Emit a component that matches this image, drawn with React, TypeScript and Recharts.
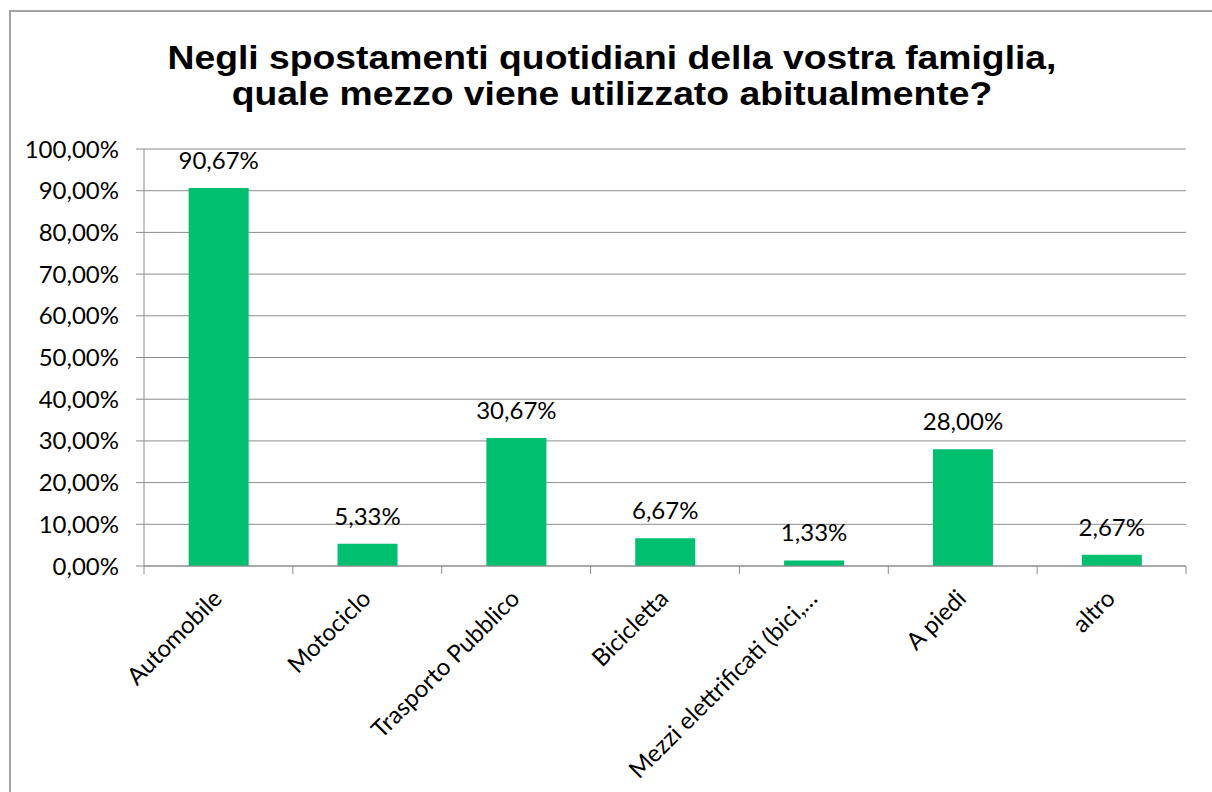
import { BarChart, Bar, XAxis, YAxis, CartesianGrid, LabelList } from "recharts";

const categories = [
  "Automobile",
  "Motociclo",
  "Trasporto Pubblico",
  "Bicicletta",
  "Mezzi elettrificati (bici,…",
  "A piedi",
  "altro",
];
const shares = [0.9067, 0.0533, 0.3067, 0.0667, 0.0133, 0.28, 0.0267];
const yTicks = [0, 0.1, 0.2, 0.3, 0.4, 0.5, 0.6, 0.7, 0.8, 0.9, 1];
const titleLines = [
  "Negli spostamenti quotidiani della vostra famiglia,",
  "quale mezzo viene utilizzato abitualmente?",
];

const data = categories.map((name, i) => ({ name, value: shares[i] }));

const GREEN = "#00BF6F";
const GRAY = "#8c8c8c";
const FONT = "Lato, 'Open Sans', sans-serif";

const pct = (v: number) => `${(v * 100).toFixed(2).replace(".", ",")}%`;

function CategoryTick(props: any) {
  const { x, y, payload, index, visibleTicksCount, width } = props;
  const half = payload?.offset || width / visibleTicksCount / 2;
  const ax = x + 5;
  const ay = y + 34;
  return (
    <g>
      <line x1={x - half} y1={y} x2={x - half} y2={y + 8} stroke={GRAY} />
      {index === visibleTicksCount - 1 && (
        <line x1={x + half} y1={y} x2={x + half} y2={y + 8} stroke={GRAY} />
      )}
      <text
        x={ax}
        y={ay}
        transform={`rotate(-45, ${ax}, ${ay})`}
        textAnchor="end"
        fontSize={24}
        fontFamily={FONT}
        fill="#000"
      >
        {payload.value}
      </text>
    </g>
  );
}

export default function App() {
  return (
    <div
      style={{
        position: "absolute",
        left: 0,
        top: 0,
        width: 1212,
        height: 792,
        background: "#fff",
        overflow: "hidden",
      }}
    >
      <div
        style={{
          position: "absolute",
          left: 9,
          top: 10,
          width: 1240,
          height: 820,
          border: "2px solid #a3a3a3",
        }}
      />
      <div
        style={{
          position: "absolute",
          left: 0,
          top: 40,
          width: 1224,
          textAlign: "center",
          fontFamily: "'Liberation Sans', Arial, sans-serif",
          fontWeight: "bold",
          fontSize: 33,
          lineHeight: "36px",
          color: "#000",
          transform: "scaleX(1.13)",
          transformOrigin: "612px 0",
        }}
      >
        {titleLines.map((t) => (
          <div key={t}>{t}</div>
        ))}
      </div>
      <div style={{ position: "absolute", left: 0, top: 0 }}>
        <BarChart
          width={1212}
          height={792}
          data={data}
          margin={{ top: 149, right: 26, bottom: 126, left: 0 }}
          barCategoryGap="30%"
        >
          <CartesianGrid vertical={false} stroke={GRAY} />
          <XAxis
            dataKey="name"
            height={100}
            interval={0}
            tickLine={false}
            tickSize={0}
            tickMargin={0}
            axisLine={{ stroke: GRAY }}
            tick={<CategoryTick />}
          />
          <YAxis
            width={144}
            domain={[0, 1]}
            ticks={yTicks}
            interval={0}
            tickFormatter={pct}
            tickSize={8}
            tickMargin={17}
            tickLine={{ stroke: GRAY }}
            axisLine={{ stroke: GRAY }}
            tick={{ fill: "#000", fontSize: 24, fontFamily: FONT }}
          />
          <Bar dataKey="value" fill={GREEN} isAnimationActive={false}>
            <LabelList
              dataKey="value"
              position="top"
              offset={19}
              formatter={(v: any) => pct(Number(v))}
              fill="#000"
              fontSize={24}
              fontFamily={FONT}
            />
          </Bar>
        </BarChart>
      </div>
    </div>
  );
}
